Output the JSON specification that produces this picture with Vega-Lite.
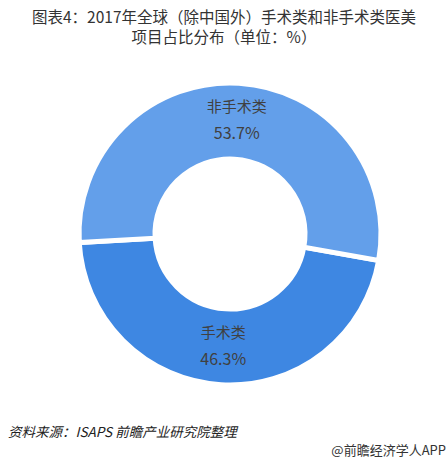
{
  "$schema": "https://vega.github.io/schema/vega-lite/v6.json",
  "autosize": {"type": "none"},
  "width": 436,
  "height": 328,
  "padding": {"left": 12, "top": 70, "right": 0, "bottom": 64},
  "background": "white",
  "config": {"view": {"stroke": null}, "font": "Noto Sans CJK SC"},
  "title": {
    "text": ["图表4：2017年全球（除中国外）手术类和非手术类医美", "项目占比分布（单位：%）"],
    "fontSize": 15.5,
    "fontWeight": "normal",
    "color": "#333333",
    "lineHeight": 20,
    "anchor": "middle",
    "frame": "group",
    "dx": -6,
    "offset": 24
  },
  "datasets": {
    "share": [
      {"category": "手术类", "order": 1, "value": 46.3, "pct": "46.3%"},
      {"category": "非手术类", "order": 2, "value": 53.7, "pct": "53.7%"}
    ],
    "notes": [{"source": "资料来源：ISAPS  前瞻产业研究院整理", "brand": "@前瞻经济学人APP"}]
  },
  "layer": [
    {
      "data": {"name": "share"},
      "mark": {"type": "arc", "outerRadius": 151, "innerRadius": 75, "stroke": "white", "strokeWidth": 5},
      "encoding": {
        "theta": {"field": "value", "type": "quantitative", "stack": true, "scale": {"range": [1.747, 8.030]}},
        "order": {"field": "order", "type": "quantitative"},
        "color": {"field": "category", "type": "nominal", "legend": null,
          "scale": {"domain": ["手术类", "非手术类"], "range": ["#3E87E2", "#639FEA"]}}
      }
    },
    {
      "data": {"name": "share"},
      "mark": {"type": "text", "radius": 113, "dy": -14, "fontSize": 15, "color": "#404040"},
      "encoding": {
        "theta": {"field": "value", "type": "quantitative", "stack": true, "scale": {"range": [1.747, 8.030]}},
        "order": {"field": "order", "type": "quantitative"},
        "text": {"field": "category"}
      }
    },
    {
      "data": {"name": "share"},
      "mark": {"type": "text", "radius": 113, "dy": 13, "fontSize": 16, "color": "#404040"},
      "encoding": {
        "theta": {"field": "value", "type": "quantitative", "stack": true, "scale": {"range": [1.747, 8.030]}},
        "order": {"field": "order", "type": "quantitative"},
        "text": {"field": "pct"}
      }
    },
    {
      "data": {"name": "notes"},
      "mark": {"type": "text", "x": -4, "y": 367, "align": "left", "baseline": "alphabetic", "fontSize": 13.5, "fontStyle": "italic", "color": "#222222"},
      "encoding": {"text": {"field": "source"}}
    },
    {
      "data": {"name": "notes"},
      "mark": {"type": "text", "x": 434, "y": 385, "align": "right", "baseline": "alphabetic", "fontSize": 13, "color": "#333333"},
      "encoding": {"text": {"field": "brand"}}
    }
  ]
}
